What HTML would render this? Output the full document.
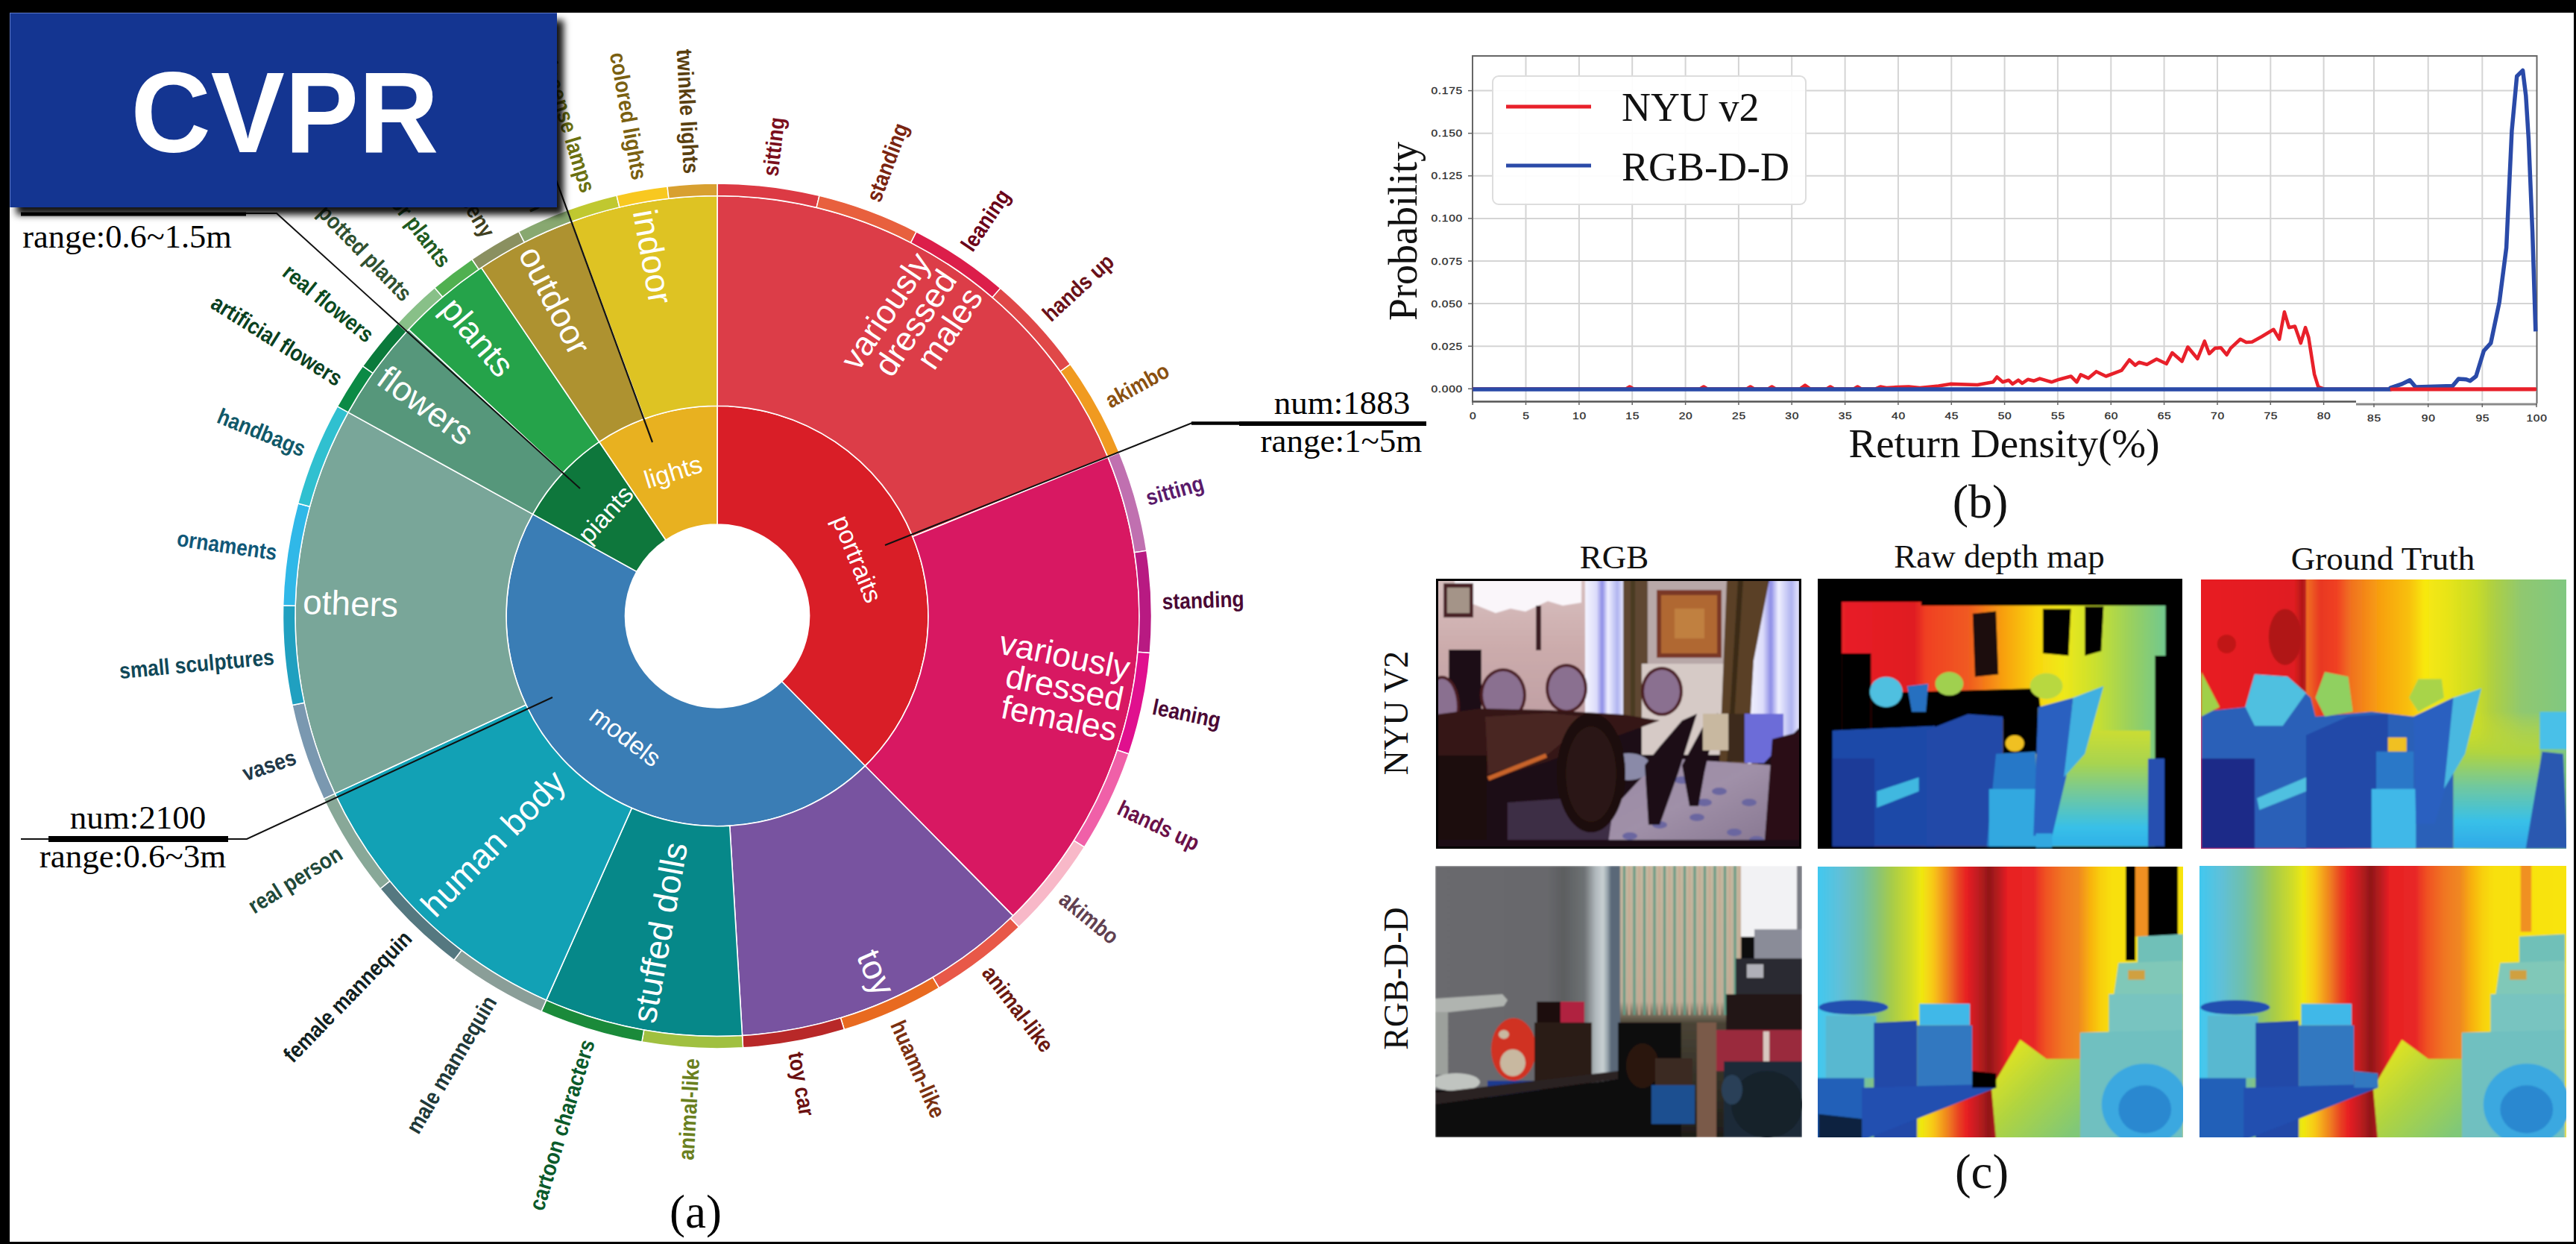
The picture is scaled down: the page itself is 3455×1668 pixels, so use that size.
<!DOCTYPE html>
<html><head><meta charset="utf-8"><style>
html,body{margin:0;padding:0;background:#000;}
#page{position:relative;width:3455px;height:1668px;background:#000;overflow:hidden;}
#white{position:absolute;left:13px;top:17px;width:3439px;height:1648px;background:#fff;}
svg{position:absolute;left:0;top:0;}
#cvpr{position:absolute;left:13px;top:17px;width:734px;height:261px;background:#143591;box-shadow:9px 10px 9px rgba(0,0,0,0.92);
border-top:1px solid #5c78c8;border-left:1px solid #5c78c8;box-sizing:border-box;
font-family:"Liberation Sans",sans-serif;font-weight:bold;color:#fff;font-size:154px;line-height:261px;text-align:center;}
#cvpr span{display:inline-block;transform:translate(1px,3px) scale(0.965,1);}
</style></head><body><div id="page"><div id="white"></div>
<svg width="3455" height="1668" viewBox="0 0 3455 1668">
<g font-family="Liberation Sans, sans-serif">
<path d="M962.00,544.27 A283,281.7265 0 0 1 1160.36,1026.94 L1048.56,913.69 A123.5,122.94425000000001 0 0 0 962.00,703.06 Z" fill="#d91e27" stroke="#fff" stroke-width="1.6" stroke-linejoin="round"/>
<path d="M1160.36,1026.94 A283,281.7265 0 0 1 714.48,689.42 L853.98,766.40 A123.5,122.94425000000001 0 0 0 1048.56,913.69 Z" fill="#3a7db5" stroke="#fff" stroke-width="1.6" stroke-linejoin="round"/>
<path d="M714.48,689.42 A283,281.7265 0 0 1 803.75,592.44 L892.94,724.07 A123.5,122.94425000000001 0 0 0 853.98,766.40 Z" fill="#0e773c" stroke="#fff" stroke-width="1.6" stroke-linejoin="round"/>
<path d="M803.75,592.44 A283,281.7265 0 0 1 962.00,544.27 L962.00,703.06 A123.5,122.94425000000001 0 0 0 892.94,724.07 Z" fill="#e8b120" stroke="#fff" stroke-width="1.6" stroke-linejoin="round"/>
<path d="M962.00,262.55 A566,563.453 0 0 1 1486.04,613.10 L1224.02,719.55 A283,281.7265 0 0 0 962.00,544.27 Z" fill="#dc3d48" stroke="#fff" stroke-width="1.6" stroke-linejoin="round"/>
<path d="M1486.04,613.10 A566,563.453 0 0 1 1358.71,1227.88 L1160.36,1026.94 A283,281.7265 0 0 0 1224.02,719.55 Z" fill="#d81862" stroke="#fff" stroke-width="1.6" stroke-linejoin="round"/>
<path d="M1358.71,1227.88 A566,563.453 0 0 1 995.57,1388.46 L978.78,1107.23 A283,281.7265 0 0 0 1160.36,1026.94 Z" fill="#7853a0" stroke="#fff" stroke-width="1.6" stroke-linejoin="round"/>
<path d="M995.57,1388.46 A566,563.453 0 0 1 732.69,1341.14 L847.34,1083.57 A283,281.7265 0 0 0 978.78,1107.23 Z" fill="#068889" stroke="#fff" stroke-width="1.6" stroke-linejoin="round"/>
<path d="M732.69,1341.14 A566,563.453 0 0 1 449.03,1064.13 L705.51,945.06 A283,281.7265 0 0 0 847.34,1083.57 Z" fill="#12a1b5" stroke="#fff" stroke-width="1.6" stroke-linejoin="round"/>
<path d="M449.03,1064.13 A566,563.453 0 0 1 466.97,552.83 L714.48,689.42 A283,281.7265 0 0 0 705.51,945.06 Z" fill="#79a699" stroke="#fff" stroke-width="1.6" stroke-linejoin="round"/>
<path d="M466.97,552.83 A566,563.453 0 0 1 548.05,441.73 L755.03,633.86 A283,281.7265 0 0 0 714.48,689.42 Z" fill="#56977b" stroke="#fff" stroke-width="1.6" stroke-linejoin="round"/>
<path d="M548.05,441.73 A566,563.453 0 0 1 645.50,358.88 L803.75,592.44 A283,281.7265 0 0 0 755.03,633.86 Z" fill="#25a34a" stroke="#fff" stroke-width="1.6" stroke-linejoin="round"/>
<path d="M645.50,358.88 A566,563.453 0 0 1 766.56,297.20 L864.28,561.60 A283,281.7265 0 0 0 803.75,592.44 Z" fill="#ae9230" stroke="#fff" stroke-width="1.6" stroke-linejoin="round"/>
<path d="M766.56,297.20 A566,563.453 0 0 1 962.00,262.55 L962.00,544.27 A283,281.7265 0 0 0 864.28,561.60 Z" fill="#dec323" stroke="#fff" stroke-width="1.6" stroke-linejoin="round"/>
<path d="M962.00,246.12 A582.5,579.8787500000001 0 0 1 1098.97,262.38 L1095.09,278.35 A566,563.453 0 0 0 962.00,262.55 Z" fill="#dc3a44" stroke="#fff" stroke-width="1.5" stroke-linejoin="round"/>
<path d="M1098.97,262.38 A582.5,579.8787500000001 0 0 1 1229.16,310.71 L1221.60,325.31 A566,563.453 0 0 0 1095.09,278.35 Z" fill="#e8603e" stroke="#fff" stroke-width="1.5" stroke-linejoin="round"/>
<path d="M1229.16,310.71 A582.5,579.8787500000001 0 0 1 1341.85,386.37 L1331.09,398.83 A566,563.453 0 0 0 1221.60,325.31 Z" fill="#dc1e4a" stroke="#fff" stroke-width="1.5" stroke-linejoin="round"/>
<path d="M1341.85,386.37 A582.5,579.8787500000001 0 0 1 1435.63,488.44 L1422.22,498.00 A566,563.453 0 0 0 1331.09,398.83 Z" fill="#e04848" stroke="#fff" stroke-width="1.5" stroke-linejoin="round"/>
<path d="M1435.63,488.44 A582.5,579.8787500000001 0 0 1 1501.32,606.90 L1486.04,613.10 A566,563.453 0 0 0 1422.22,498.00 Z" fill="#f09a20" stroke="#fff" stroke-width="1.5" stroke-linejoin="round"/>
<path d="M1501.32,606.90 A582.5,579.8787500000001 0 0 1 1537.80,738.29 L1521.49,740.77 A566,563.453 0 0 0 1486.04,613.10 Z" fill="#c070b0" stroke="#fff" stroke-width="1.5" stroke-linejoin="round"/>
<path d="M1537.80,738.29 A582.5,579.8787500000001 0 0 1 1542.37,875.53 L1525.93,874.13 A566,563.453 0 0 0 1521.49,740.77 Z" fill="#b81a82" stroke="#fff" stroke-width="1.5" stroke-linejoin="round"/>
<path d="M1542.37,875.53 A582.5,579.8787500000001 0 0 1 1514.08,1010.96 L1498.44,1005.72 A566,563.453 0 0 0 1525.93,874.13 Z" fill="#e0108e" stroke="#fff" stroke-width="1.5" stroke-linejoin="round"/>
<path d="M1514.08,1010.96 A582.5,579.8787500000001 0 0 1 1454.37,1135.86 L1440.42,1127.08 A566,563.453 0 0 0 1498.44,1005.72 Z" fill="#f060a8" stroke="#fff" stroke-width="1.5" stroke-linejoin="round"/>
<path d="M1454.37,1135.86 A582.5,579.8787500000001 0 0 1 1366.64,1243.13 L1355.18,1231.31 A566,563.453 0 0 0 1440.42,1127.08 Z" fill="#f8b8c8" stroke="#fff" stroke-width="1.5" stroke-linejoin="round"/>
<path d="M1366.64,1243.13 A582.5,579.8787500000001 0 0 1 1259.39,1324.61 L1250.97,1310.49 A566,563.453 0 0 0 1355.18,1231.31 Z" fill="#e85848" stroke="#fff" stroke-width="1.5" stroke-linejoin="round"/>
<path d="M1259.39,1324.61 A582.5,579.8787500000001 0 0 1 1132.31,1380.54 L1127.48,1364.83 A566,563.453 0 0 0 1250.97,1310.49 Z" fill="#e86a20" stroke="#fff" stroke-width="1.5" stroke-linejoin="round"/>
<path d="M1132.31,1380.54 A582.5,579.8787500000001 0 0 1 996.55,1404.86 L995.57,1388.46 A566,563.453 0 0 0 1127.48,1364.83 Z" fill="#b82828" stroke="#fff" stroke-width="1.5" stroke-linejoin="round"/>
<path d="M996.55,1404.86 A582.5,579.8787500000001 0 0 1 860.85,1397.07 L863.72,1380.89 A566,563.453 0 0 0 995.57,1388.46 Z" fill="#a0c040" stroke="#fff" stroke-width="1.5" stroke-linejoin="round"/>
<path d="M860.85,1397.07 A582.5,579.8787500000001 0 0 1 726.01,1356.16 L732.69,1341.14 A566,563.453 0 0 0 863.72,1380.89 Z" fill="#1a8a3a" stroke="#fff" stroke-width="1.5" stroke-linejoin="round"/>
<path d="M726.01,1356.16 A582.5,579.8787500000001 0 0 1 609.01,1287.28 L619.01,1274.21 A566,563.453 0 0 0 732.69,1341.14 Z" fill="#8a9e98" stroke="#fff" stroke-width="1.5" stroke-linejoin="round"/>
<path d="M609.01,1287.28 A582.5,579.8787500000001 0 0 1 509.95,1191.72 L522.76,1181.36 A566,563.453 0 0 0 619.01,1274.21 Z" fill="#557880" stroke="#fff" stroke-width="1.5" stroke-linejoin="round"/>
<path d="M509.95,1191.72 A582.5,579.8787500000001 0 0 1 434.08,1071.07 L449.03,1064.13 A566,563.453 0 0 0 522.76,1181.36 Z" fill="#88a898" stroke="#fff" stroke-width="1.5" stroke-linejoin="round"/>
<path d="M434.08,1071.07 A582.5,579.8787500000001 0 0 1 392.02,945.57 L408.16,942.19 A566,563.453 0 0 0 449.03,1064.13 Z" fill="#7a98b0" stroke="#fff" stroke-width="1.5" stroke-linejoin="round"/>
<path d="M392.02,945.57 A582.5,579.8787500000001 0 0 1 379.67,811.83 L396.17,812.23 A566,563.453 0 0 0 408.16,942.19 Z" fill="#20a0c0" stroke="#fff" stroke-width="1.5" stroke-linejoin="round"/>
<path d="M379.67,811.83 A582.5,579.8787500000001 0 0 1 399.61,674.94 L415.54,679.22 A566,563.453 0 0 0 396.17,812.23 Z" fill="#30b8e8" stroke="#fff" stroke-width="1.5" stroke-linejoin="round"/>
<path d="M399.61,674.94 A582.5,579.8787500000001 0 0 1 452.53,544.87 L466.97,552.83 A566,563.453 0 0 0 415.54,679.22 Z" fill="#30c0d0" stroke="#fff" stroke-width="1.5" stroke-linejoin="round"/>
<path d="M452.53,544.87 A582.5,579.8787500000001 0 0 1 486.60,490.91 L500.07,500.40 A566,563.453 0 0 0 466.97,552.83 Z" fill="#0b8a45" stroke="#fff" stroke-width="1.5" stroke-linejoin="round"/>
<path d="M486.60,490.91 A582.5,579.8787500000001 0 0 1 533.22,433.49 L545.37,444.61 A566,563.453 0 0 0 500.07,500.40 Z" fill="#0b7a3b" stroke="#fff" stroke-width="1.5" stroke-linejoin="round"/>
<path d="M533.22,433.49 A582.5,579.8787500000001 0 0 1 582.92,385.71 L593.66,398.19 A566,563.453 0 0 0 545.37,444.61 Z" fill="#88c088" stroke="#fff" stroke-width="1.5" stroke-linejoin="round"/>
<path d="M582.92,385.71 A582.5,579.8787500000001 0 0 1 632.91,347.53 L642.23,361.09 A566,563.453 0 0 0 593.66,398.19 Z" fill="#50b050" stroke="#fff" stroke-width="1.5" stroke-linejoin="round"/>
<path d="M632.91,347.53 A582.5,579.8787500000001 0 0 1 695.74,310.25 L703.28,324.86 A566,563.453 0 0 0 642.23,361.09 Z" fill="#8a9060" stroke="#fff" stroke-width="1.5" stroke-linejoin="round"/>
<path d="M695.74,310.25 A582.5,579.8787500000001 0 0 1 760.86,281.79 L766.56,297.20 A566,563.453 0 0 0 703.28,324.86 Z" fill="#88a870" stroke="#fff" stroke-width="1.5" stroke-linejoin="round"/>
<path d="M760.86,281.79 A582.5,579.8787500000001 0 0 1 827.01,261.91 L830.83,277.89 A566,563.453 0 0 0 766.56,297.20 Z" fill="#c0c830" stroke="#fff" stroke-width="1.5" stroke-linejoin="round"/>
<path d="M827.01,261.91 A582.5,579.8787500000001 0 0 1 895.05,249.96 L896.95,266.28 A566,563.453 0 0 0 830.83,277.89 Z" fill="#f8c820" stroke="#fff" stroke-width="1.5" stroke-linejoin="round"/>
<path d="M895.05,249.96 A582.5,579.8787500000001 0 0 1 962.00,246.12 L962.00,262.55 A566,563.453 0 0 0 896.95,266.28 Z" fill="#d8a030" stroke="#fff" stroke-width="1.5" stroke-linejoin="round"/>
<text transform="translate(1032.7 235.9) rotate(-83.20) scale(0.88 1)" text-anchor="start" dominant-baseline="central" fill="#7a0e1c" font-size="30" font-weight="bold">sitting</text>
<text transform="translate(1170.6 269.1) rotate(-69.55) scale(0.88 1)" text-anchor="start" dominant-baseline="central" fill="#7a2410" font-size="30" font-weight="bold">standing</text>
<text transform="translate(1295.8 333.3) rotate(-56.00) scale(0.88 1)" text-anchor="start" dominant-baseline="central" fill="#6a0018" font-size="30" font-weight="bold">leaning</text>
<text transform="translate(1402.5 424.9) rotate(-42.45) scale(0.88 1)" text-anchor="start" dominant-baseline="central" fill="#6a1018" font-size="30" font-weight="bold">hands up</text>
<text transform="translate(1484.7 538.8) rotate(-28.90) scale(0.88 1)" text-anchor="start" dominant-baseline="central" fill="#8a5010" font-size="30" font-weight="bold">akimbo</text>
<text transform="translate(1537.4 667.7) rotate(-15.45) scale(0.88 1)" text-anchor="start" dominant-baseline="central" fill="#5a1a6a" font-size="30" font-weight="bold">sitting</text>
<text transform="translate(1558.7 806.3) rotate(-1.90) scale(0.88 1)" text-anchor="start" dominant-baseline="central" fill="#4a0834" font-size="30" font-weight="bold">standing</text>
<text transform="translate(1546.5 947.0) rotate(11.75) scale(0.88 1)" text-anchor="start" dominant-baseline="central" fill="#4a0834" font-size="30" font-weight="bold">leaning</text>
<text transform="translate(1501.1 1081.4) rotate(25.45) scale(0.88 1)" text-anchor="start" dominant-baseline="central" fill="#6a1048" font-size="30" font-weight="bold">hands up</text>
<text transform="translate(1425.0 1201.2) rotate(39.15) scale(0.88 1)" text-anchor="start" dominant-baseline="central" fill="#604050" font-size="30" font-weight="bold">akimbo</text>
<text transform="translate(1324.2 1298.4) rotate(52.65) scale(0.88 1)" text-anchor="start" dominant-baseline="central" fill="#6a1810" font-size="30" font-weight="bold">animal-like</text>
<text transform="translate(1203.4 1369.6) rotate(66.15) scale(0.88 1)" text-anchor="start" dominant-baseline="central" fill="#7a3010" font-size="30" font-weight="bold">huamn-like</text>
<text transform="translate(1067.7 1410.9) rotate(79.80) scale(0.88 1)" text-anchor="start" dominant-baseline="central" fill="#6a1010" font-size="30" font-weight="bold">toy car</text>
<text transform="translate(927.6 1419.3) rotate(-86.70) scale(0.88 1)" text-anchor="end" dominant-baseline="central" fill="#6a8020" font-size="30" font-weight="bold">animal-like</text>
<text transform="translate(788.0 1394.5) rotate(-73.05) scale(0.88 1)" text-anchor="end" dominant-baseline="central" fill="#0a5a2a" font-size="30" font-weight="bold">cartoon characters</text>
<text transform="translate(658.1 1337.6) rotate(-59.40) scale(0.88 1)" text-anchor="end" dominant-baseline="central" fill="#203838" font-size="30" font-weight="bold">male mannequin</text>
<text transform="translate(546.5 1252.8) rotate(-45.90) scale(0.88 1)" text-anchor="end" dominant-baseline="central" fill="#102020" font-size="30" font-weight="bold">female mannequin</text>
<text transform="translate(456.0 1141.4) rotate(-32.05) scale(0.88 1)" text-anchor="end" dominant-baseline="central" fill="#204838" font-size="30" font-weight="bold">real person</text>
<text transform="translate(395.7 1014.1) rotate(-18.45) scale(0.88 1)" text-anchor="end" dominant-baseline="central" fill="#203848" font-size="30" font-weight="bold">vases</text>
<text transform="translate(367.5 880.4) rotate(-5.25) scale(0.88 1)" text-anchor="end" dominant-baseline="central" fill="#104858" font-size="30" font-weight="bold">small sculptures</text>
<text transform="translate(371.2 740.7) rotate(8.25) scale(0.88 1)" text-anchor="end" dominant-baseline="central" fill="#105878" font-size="30" font-weight="bold">ornaments</text>
<text transform="translate(408.7 602.9) rotate(22.05) scale(0.88 1)" text-anchor="end" dominant-baseline="central" fill="#105868" font-size="30" font-weight="bold">handbags</text>
<text transform="translate(456.5 509.7) rotate(32.15) scale(0.88 1)" text-anchor="end" dominant-baseline="central" fill="#0a4020" font-size="30" font-weight="bold">artificial flowers</text>
<text transform="translate(497.7 452.4) rotate(38.95) scale(0.88 1)" text-anchor="end" dominant-baseline="central" fill="#0a4a20" font-size="30" font-weight="bold">real flowers</text>
<text transform="translate(547.3 398.5) rotate(46.00) scale(0.88 1)" text-anchor="end" dominant-baseline="central" fill="#305030" font-size="30" font-weight="bold">potted plants</text>
<text transform="translate(598.6 354.5) rotate(52.50) scale(0.88 1)" text-anchor="end" dominant-baseline="central" fill="#205a20" font-size="30" font-weight="bold">indoor plants</text>
<text transform="translate(656.3 315.5) rotate(59.20) scale(0.88 1)" text-anchor="end" dominant-baseline="central" fill="#404020" font-size="30" font-weight="bold">greeny</text>
<text transform="translate(722.0 281.8) rotate(66.30) scale(0.88 1)" text-anchor="end" dominant-baseline="central" fill="#405030" font-size="30" font-weight="bold">lawn</text>
<text transform="translate(789.4 257.1) rotate(73.20) scale(0.88 1)" text-anchor="end" dominant-baseline="central" fill="#6a7010" font-size="30" font-weight="bold">incense lamps</text>
<text transform="translate(858.3 240.7) rotate(80.00) scale(0.88 1)" text-anchor="end" dominant-baseline="central" fill="#7a6010" font-size="30" font-weight="bold">colored lights</text>
<text transform="translate(927.6 232.7) rotate(86.70) scale(0.88 1)" text-anchor="end" dominant-baseline="central" fill="#5a4010" font-size="30" font-weight="bold">twinkle lights</text>
<g transform="translate(1272.1 366.6) rotate(-56.10)"><text x="0" y="-42.0" text-anchor="end" dominant-baseline="central" fill="#fff" font-size="45">variously</text><text x="0" y="0.0" text-anchor="end" dominant-baseline="central" fill="#fff" font-size="45">dressed</text><text x="0" y="42.0" text-anchor="end" dominant-baseline="central" fill="#fff" font-size="45">males</text></g>
<g transform="translate(1506.5 937.8) rotate(11.65)"><text x="0" y="-42.0" text-anchor="end" dominant-baseline="central" fill="#fff" font-size="45">variously</text><text x="0" y="0.0" text-anchor="end" dominant-baseline="central" fill="#fff" font-size="45">dressed</text><text x="0" y="42.0" text-anchor="end" dominant-baseline="central" fill="#fff" font-size="45">females</text></g>
<g transform="translate(1187.7 1331.8) rotate(66.05)"><text x="0" y="0.0" text-anchor="end" dominant-baseline="central" fill="#fff" font-size="46">toy</text></g>
<g transform="translate(863.1 1370.7) rotate(-79.75)"><text x="0" y="0.0" text-anchor="start" dominant-baseline="central" fill="#fff" font-size="46">stuffed dolls</text></g>
<g transform="translate(572.6 1221.1) rotate(-45.55)"><text x="0" y="0.0" text-anchor="start" dominant-baseline="central" fill="#fff" font-size="46">human body</text></g>
<g transform="translate(406.3 806.7) rotate(2.00)"><text x="0" y="0.0" text-anchor="start" dominant-baseline="central" fill="#fff" font-size="46">others</text></g>
<g transform="translate(512.2 500.7) rotate(36.00)"><text x="0" y="0.0" text-anchor="start" dominant-baseline="central" fill="#fff" font-size="46">flowers</text></g>
<g transform="translate(600.9 405.1) rotate(49.50)"><text x="0" y="0.0" text-anchor="start" dominant-baseline="central" fill="#fff" font-size="46">plants</text></g>
<g transform="translate(708.7 333.3) rotate(62.90)"><text x="0" y="0.0" text-anchor="start" dominant-baseline="central" fill="#fff" font-size="46">outdoor</text></g>
<g transform="translate(864.5 281.1) rotate(79.90)"><text x="0" y="0.0" text-anchor="start" dominant-baseline="central" fill="#fff" font-size="46">indoor</text></g>
<text x="1150.1" y="749.4" transform="rotate(67.75 1150.1 749.4)" text-anchor="middle" dominant-baseline="central" fill="#fff" font-size="34">portraits</text>
<text x="839.0" y="987.1" transform="rotate(37.25 839.0 987.1)" text-anchor="middle" dominant-baseline="central" fill="#fff" font-size="34">models</text>
<text x="812.1" y="689.3" transform="rotate(-47.50 812.1 689.3)" text-anchor="middle" dominant-baseline="central" fill="#fff" font-size="34">piants</text>
<text x="902.6" y="632.5" transform="rotate(-17.00 902.6 632.5)" text-anchor="middle" dominant-baseline="central" fill="#fff" font-size="34">lights</text>
</g>
<g font-family="Liberation Serif, serif" fill="#000">
<polyline points="1187,731 1599,567" fill="none" stroke="#111" stroke-width="2"/>
<line x1="1598" y1="567.5" x2="1664" y2="567.5" stroke="#000" stroke-width="4.5"/>
<line x1="1662" y1="568" x2="1913" y2="568" stroke="#000" stroke-width="6"/>
<text x="1800" y="555" text-anchor="middle" font-size="45">num:1883</text>
<text x="1799" y="606" text-anchor="middle" font-size="45">range:1~5m</text>
<polyline points="741,935 331,1125 28,1125" fill="none" stroke="#111" stroke-width="2"/>
<line x1="65" y1="1125" x2="306" y2="1125" stroke="#000" stroke-width="8"/>
<text x="185" y="1111" text-anchor="middle" font-size="45">num:2100</text>
<text x="178" y="1163" text-anchor="middle" font-size="45">range:0.6~3m</text>
<polyline points="778,655 371,286 28,286" fill="none" stroke="#111" stroke-width="2"/>
<line x1="28" y1="287" x2="330" y2="287" stroke="#000" stroke-width="5"/>
<text x="170.5" y="332" text-anchor="middle" font-size="44.4">range:0.6~1.5m</text>
<line x1="875" y1="593" x2="741" y2="228" stroke="#111" stroke-width="2.2"/>
<text x="933" y="1646" text-anchor="middle" font-size="63">(a)</text>
</g>
<g>
<line x1="2046.5" y1="75" x2="2046.5" y2="538" stroke="#d4d4d4" stroke-width="2"/>
<line x1="2117.9" y1="75" x2="2117.9" y2="538" stroke="#d4d4d4" stroke-width="2"/>
<line x1="2189.2" y1="75" x2="2189.2" y2="538" stroke="#d4d4d4" stroke-width="2"/>
<line x1="2260.6" y1="75" x2="2260.6" y2="538" stroke="#d4d4d4" stroke-width="2"/>
<line x1="2331.9" y1="75" x2="2331.9" y2="538" stroke="#d4d4d4" stroke-width="2"/>
<line x1="2403.2" y1="75" x2="2403.2" y2="538" stroke="#d4d4d4" stroke-width="2"/>
<line x1="2474.6" y1="75" x2="2474.6" y2="538" stroke="#d4d4d4" stroke-width="2"/>
<line x1="2545.9" y1="75" x2="2545.9" y2="538" stroke="#d4d4d4" stroke-width="2"/>
<line x1="2617.3" y1="75" x2="2617.3" y2="538" stroke="#d4d4d4" stroke-width="2"/>
<line x1="2688.6" y1="75" x2="2688.6" y2="538" stroke="#d4d4d4" stroke-width="2"/>
<line x1="2759.9" y1="75" x2="2759.9" y2="538" stroke="#d4d4d4" stroke-width="2"/>
<line x1="2831.3" y1="75" x2="2831.3" y2="538" stroke="#d4d4d4" stroke-width="2"/>
<line x1="2902.6" y1="75" x2="2902.6" y2="538" stroke="#d4d4d4" stroke-width="2"/>
<line x1="2974.0" y1="75" x2="2974.0" y2="538" stroke="#d4d4d4" stroke-width="2"/>
<line x1="3045.3" y1="75" x2="3045.3" y2="538" stroke="#d4d4d4" stroke-width="2"/>
<line x1="3116.6" y1="75" x2="3116.6" y2="538" stroke="#d4d4d4" stroke-width="2"/>
<line x1="3184.0" y1="75" x2="3184.0" y2="538" stroke="#d4d4d4" stroke-width="2"/>
<line x1="3256.7" y1="75" x2="3256.7" y2="538" stroke="#d4d4d4" stroke-width="2"/>
<line x1="3329.3" y1="75" x2="3329.3" y2="538" stroke="#d4d4d4" stroke-width="2"/>
<line x1="1974" y1="521.3" x2="3403" y2="521.3" stroke="#d4d4d4" stroke-width="2"/>
<line x1="1974" y1="464.2" x2="3403" y2="464.2" stroke="#d4d4d4" stroke-width="2"/>
<line x1="1974" y1="407.1" x2="3403" y2="407.1" stroke="#d4d4d4" stroke-width="2"/>
<line x1="1974" y1="350.0" x2="3403" y2="350.0" stroke="#d4d4d4" stroke-width="2"/>
<line x1="1974" y1="292.9" x2="3403" y2="292.9" stroke="#d4d4d4" stroke-width="2"/>
<line x1="1974" y1="235.8" x2="3403" y2="235.8" stroke="#d4d4d4" stroke-width="2"/>
<line x1="1974" y1="178.7" x2="3403" y2="178.7" stroke="#d4d4d4" stroke-width="2"/>
<line x1="1974" y1="121.6" x2="3403" y2="121.6" stroke="#d4d4d4" stroke-width="2"/>
<polyline points="1975,538 1975,75 3402.5,75 3402.5,541" fill="none" stroke="#666" stroke-width="2"/>
<line x1="1974" y1="538.5" x2="3160" y2="538.5" stroke="#555" stroke-width="2.5"/>
<line x1="3160" y1="542" x2="3403" y2="542" stroke="#8a8a8a" stroke-width="3"/>
<g font-family="Liberation Sans, sans-serif" font-size="13" fill="#2a2a2a" stroke="#2a2a2a" stroke-width="0.3" letter-spacing="0.6">
<line x1="1975.2" y1="538" x2="1975.2" y2="543" stroke="#666" stroke-width="1.5"/>
<text transform="translate(1975.7 562) scale(1.2 1)" text-anchor="middle">0</text>
<line x1="2046.5" y1="538" x2="2046.5" y2="543" stroke="#666" stroke-width="1.5"/>
<text transform="translate(2047.0 562) scale(1.2 1)" text-anchor="middle">5</text>
<line x1="2117.9" y1="538" x2="2117.9" y2="543" stroke="#666" stroke-width="1.5"/>
<text transform="translate(2118.4 562) scale(1.2 1)" text-anchor="middle">10</text>
<line x1="2189.2" y1="538" x2="2189.2" y2="543" stroke="#666" stroke-width="1.5"/>
<text transform="translate(2189.7 562) scale(1.2 1)" text-anchor="middle">15</text>
<line x1="2260.6" y1="538" x2="2260.6" y2="543" stroke="#666" stroke-width="1.5"/>
<text transform="translate(2261.1 562) scale(1.2 1)" text-anchor="middle">20</text>
<line x1="2331.9" y1="538" x2="2331.9" y2="543" stroke="#666" stroke-width="1.5"/>
<text transform="translate(2332.4 562) scale(1.2 1)" text-anchor="middle">25</text>
<line x1="2403.2" y1="538" x2="2403.2" y2="543" stroke="#666" stroke-width="1.5"/>
<text transform="translate(2403.7 562) scale(1.2 1)" text-anchor="middle">30</text>
<line x1="2474.6" y1="538" x2="2474.6" y2="543" stroke="#666" stroke-width="1.5"/>
<text transform="translate(2475.1 562) scale(1.2 1)" text-anchor="middle">35</text>
<line x1="2545.9" y1="538" x2="2545.9" y2="543" stroke="#666" stroke-width="1.5"/>
<text transform="translate(2546.4 562) scale(1.2 1)" text-anchor="middle">40</text>
<line x1="2617.3" y1="538" x2="2617.3" y2="543" stroke="#666" stroke-width="1.5"/>
<text transform="translate(2617.8 562) scale(1.2 1)" text-anchor="middle">45</text>
<line x1="2688.6" y1="538" x2="2688.6" y2="543" stroke="#666" stroke-width="1.5"/>
<text transform="translate(2689.1 562) scale(1.2 1)" text-anchor="middle">50</text>
<line x1="2759.9" y1="538" x2="2759.9" y2="543" stroke="#666" stroke-width="1.5"/>
<text transform="translate(2760.4 562) scale(1.2 1)" text-anchor="middle">55</text>
<line x1="2831.3" y1="538" x2="2831.3" y2="543" stroke="#666" stroke-width="1.5"/>
<text transform="translate(2831.8 562) scale(1.2 1)" text-anchor="middle">60</text>
<line x1="2902.6" y1="538" x2="2902.6" y2="543" stroke="#666" stroke-width="1.5"/>
<text transform="translate(2903.1 562) scale(1.2 1)" text-anchor="middle">65</text>
<line x1="2974.0" y1="538" x2="2974.0" y2="543" stroke="#666" stroke-width="1.5"/>
<text transform="translate(2974.5 562) scale(1.2 1)" text-anchor="middle">70</text>
<line x1="3045.3" y1="538" x2="3045.3" y2="543" stroke="#666" stroke-width="1.5"/>
<text transform="translate(3045.8 562) scale(1.2 1)" text-anchor="middle">75</text>
<line x1="3116.6" y1="538" x2="3116.6" y2="543" stroke="#666" stroke-width="1.5"/>
<text transform="translate(3117.1 562) scale(1.2 1)" text-anchor="middle">80</text>
<line x1="3184.0" y1="541" x2="3184.0" y2="546" stroke="#666" stroke-width="1.5"/>
<text transform="translate(3184.5 565) scale(1.2 1)" text-anchor="middle">85</text>
<line x1="3256.7" y1="541" x2="3256.7" y2="546" stroke="#666" stroke-width="1.5"/>
<text transform="translate(3257.2 565) scale(1.2 1)" text-anchor="middle">90</text>
<line x1="3329.3" y1="541" x2="3329.3" y2="546" stroke="#666" stroke-width="1.5"/>
<text transform="translate(3329.8 565) scale(1.2 1)" text-anchor="middle">95</text>
<line x1="3402.0" y1="541" x2="3402.0" y2="546" stroke="#666" stroke-width="1.5"/>
<text transform="translate(3402.5 565) scale(1.2 1)" text-anchor="middle">100</text>
<line x1="1969" y1="521.3" x2="1974" y2="521.3" stroke="#666" stroke-width="1.5"/>
<text transform="translate(1962 525.8) scale(1.2 1)" text-anchor="end">0.000</text>
<line x1="1969" y1="464.2" x2="1974" y2="464.2" stroke="#666" stroke-width="1.5"/>
<text transform="translate(1962 468.7) scale(1.2 1)" text-anchor="end">0.025</text>
<line x1="1969" y1="407.1" x2="1974" y2="407.1" stroke="#666" stroke-width="1.5"/>
<text transform="translate(1962 411.6) scale(1.2 1)" text-anchor="end">0.050</text>
<line x1="1969" y1="350.0" x2="1974" y2="350.0" stroke="#666" stroke-width="1.5"/>
<text transform="translate(1962 354.5) scale(1.2 1)" text-anchor="end">0.075</text>
<line x1="1969" y1="292.9" x2="1974" y2="292.9" stroke="#666" stroke-width="1.5"/>
<text transform="translate(1962 297.4) scale(1.2 1)" text-anchor="end">0.100</text>
<line x1="1969" y1="235.8" x2="1974" y2="235.8" stroke="#666" stroke-width="1.5"/>
<text transform="translate(1962 240.3) scale(1.2 1)" text-anchor="end">0.125</text>
<line x1="1969" y1="178.7" x2="1974" y2="178.7" stroke="#666" stroke-width="1.5"/>
<text transform="translate(1962 183.2) scale(1.2 1)" text-anchor="end">0.150</text>
<line x1="1969" y1="121.6" x2="1974" y2="121.6" stroke="#666" stroke-width="1.5"/>
<text transform="translate(1962 126.1) scale(1.2 1)" text-anchor="end">0.175</text>
</g>
<polyline points="1975.0,521.5 2180.8,521.5 2185.8,518.5 2190.8,521.5 2280.0,521.5 2285.0,518.5 2290.0,521.5 2342.7,521.5 2347.7,518.5 2352.7,521.5 2371.5,521.5 2376.5,518.5 2381.5,521.5 2449.9,521.5 2454.9,518.5 2459.9,521.5 2486.4,521.5 2491.4,518.5 2496.4,521.5 2414.0,521.5 2421.0,516.5 2428.0,521.5 2515.0,521.5 2522.0,518.5 2530.0,520.0 2545.0,519.0 2560.0,518.5 2575.0,520.0 2590.0,518.5 2600.0,517.5 2615.7,514.9 2652.2,516.0 2673.1,512.3 2678.4,505.5 2686.2,512.3 2694.0,509.7 2699.3,514.9 2707.1,509.7 2712.3,513.9 2720.1,508.7 2728.0,510.7 2735.8,507.6 2751.5,512.3 2761.9,508.7 2777.6,504.5 2785.4,512.3 2790.7,502.4 2801.1,507.1 2811.6,498.2 2824.6,504.5 2845.5,496.6 2856.0,482.5 2863.8,489.8 2869.0,485.7 2879.5,488.8 2892.5,481.5 2905.6,487.8 2913.4,473.1 2926.5,484.6 2934.3,465.3 2947.4,481.0 2956.8,457.5 2963.1,474.2 2970.9,466.9 2978.7,466.3 2986.6,475.7 2991.8,466.9 3004.8,454.8 3012.7,459.0 3020.5,458.5 3033.6,451.2 3049.3,441.8 3057.1,454.8 3063.9,418.3 3070.1,439.2 3078.0,437.6 3083.2,452.2 3085.8,460.1 3092.1,439.2 3096.3,452.2 3104.1,501.9 3109.3,518.6 3117.2,521.7 3401.9,521.7" fill="none" stroke="#e8202a" stroke-width="4.6" stroke-linejoin="round"/>
<polyline points="1975.2,522.0 3206.0,522.0 3206.0,520.1 3221.6,514.9 3232.1,509.7 3239.9,519.1 3289.5,517.5 3297.4,508.1 3307.8,508.7 3313.1,510.7 3320.9,504.5 3331.3,470.5 3340.7,460.1 3352.2,405.2 3361.6,332.1 3368.9,175.4 3375.7,102.2 3383.6,94.4 3387.8,128.4 3391.4,185.8 3396.6,311.2 3400.8,444.4" fill="none" stroke="#2a4aa8" stroke-width="5.5" stroke-linejoin="round"/>
<line x1="3205.8" y1="522" x2="3401" y2="522" stroke="#e8202a" stroke-width="5"/>
<rect x="2002" y="102" width="420" height="172" rx="8" fill="#fff" fill-opacity="0.92" stroke="#ddd" stroke-width="2"/>
<line x1="2020" y1="143" x2="2134" y2="143" stroke="#e8202a" stroke-width="5"/>
<line x1="2020" y1="222" x2="2134" y2="222" stroke="#2a4aa8" stroke-width="5"/>
<g font-family="Liberation Serif, serif" fill="#111">
<text x="2175" y="162" font-size="54">NYU v2</text>
<text x="2175" y="242" font-size="54">RGB-D-D</text>
<text transform="translate(1900 310) rotate(-90)" text-anchor="middle" font-size="54">Probability</text>
<text x="2688" y="613" text-anchor="middle" font-size="55">Return Density(%)</text>
<text x="2656" y="694" text-anchor="middle" font-size="64">(b)</text>
</g>
</g>
<g font-family="Liberation Serif, serif" fill="#111">
<text x="2165" y="762" text-anchor="middle" font-size="45">RGB</text>
<text x="2681.5" y="761" text-anchor="middle" font-size="45">Raw depth map</text>
<text x="3196" y="764" text-anchor="middle" font-size="45">Ground Truth</text>
<text transform="translate(1888 956) rotate(-90)" text-anchor="middle" font-size="46">NYU V2</text>
<text transform="translate(1888 1312) rotate(-90)" text-anchor="middle" font-size="46">RGB-D-D</text>
<text x="2658" y="1593" text-anchor="middle" font-size="65">(c)</text>
</g>
<defs><filter id="soft" x="-5%" y="-5%" width="110%" height="110%"><feGaussianBlur stdDeviation="3"/></filter><filter id="soft1" x="-5%" y="-5%" width="110%" height="110%"><feGaussianBlur stdDeviation="1.2"/></filter><linearGradient id="g1wall" x1="0" y1="0" x2="0" y2="1"><stop offset="0" stop-color="#d8c0c0"/><stop offset="0.5" stop-color="#ccacac"/><stop offset="1" stop-color="#c0a0a4"/></linearGradient><linearGradient id="g1win" x1="0" y1="0" x2="1" y2="0"><stop offset="0" stop-color="#f4f4ff"/><stop offset="0.3" stop-color="#dcdcfa"/><stop offset="0.45" stop-color="#8c8ce6"/><stop offset="0.6" stop-color="#f0f0ff"/><stop offset="0.85" stop-color="#b0b4f0"/><stop offset="1" stop-color="#e8e8ff"/></linearGradient><linearGradient id="g1rug" x1="0" y1="0" x2="1" y2="1"><stop offset="0" stop-color="#9a8aa4"/><stop offset="0.5" stop-color="#a090a8"/><stop offset="1" stop-color="#867690"/></linearGradient><clipPath id="cp1"><rect x="1926" y="776" width="490" height="362"/></clipPath><linearGradient id="g2top" x1="0" y1="0" x2="1" y2="0"><stop offset="0.0000" stop-color="#e82028"/><stop offset="0.2230" stop-color="#e01c20"/><stop offset="0.2590" stop-color="#f04020"/><stop offset="0.3885" stop-color="#f05a20"/><stop offset="0.4964" stop-color="#f8a010"/><stop offset="0.6043" stop-color="#f8d810"/><stop offset="0.6763" stop-color="#f0e818"/><stop offset="0.7842" stop-color="#c8e030"/><stop offset="0.8921" stop-color="#98d060"/><stop offset="1.0000" stop-color="#70c890"/></linearGradient><linearGradient id="g2top_u" gradientUnits="userSpaceOnUse" x1="160" y1="0" x2="1550" y2="0"><stop offset="0.0000" stop-color="#e82028"/><stop offset="0.2230" stop-color="#e01c20"/><stop offset="0.2590" stop-color="#f04020"/><stop offset="0.3885" stop-color="#f05a20"/><stop offset="0.4964" stop-color="#f8a010"/><stop offset="0.6043" stop-color="#f8d810"/><stop offset="0.6763" stop-color="#f0e818"/><stop offset="0.7842" stop-color="#c8e030"/><stop offset="0.8921" stop-color="#98d060"/><stop offset="1.0000" stop-color="#70c890"/></linearGradient><linearGradient id="g2r" gradientUnits="userSpaceOnUse" x1="0" y1="650" x2="0" y2="1195"><stop offset="0" stop-color="#d8e028"/><stop offset="0.35" stop-color="#a8d450"/><stop offset="0.6" stop-color="#70c8a0"/><stop offset="0.85" stop-color="#38c0e8"/><stop offset="1" stop-color="#30b0e8"/></linearGradient><clipPath id="cp2"><rect x="2438" y="776" width="489" height="362"/></clipPath><linearGradient id="g3top" gradientUnits="userSpaceOnUse" x1="72" y1="0" x2="1632" y2="0"><stop offset="0.0000" stop-color="#e81c20"/><stop offset="0.2551" stop-color="#e01c20"/><stop offset="0.2776" stop-color="#b01818"/><stop offset="0.2859" stop-color="#c02020"/><stop offset="0.2885" stop-color="#f07020"/><stop offset="0.3256" stop-color="#e83820"/><stop offset="0.3705" stop-color="#f04020"/><stop offset="0.4077" stop-color="#f07020"/><stop offset="0.4897" stop-color="#f8a010"/><stop offset="0.5692" stop-color="#f8c010"/><stop offset="0.6122" stop-color="#f8e810"/><stop offset="0.6737" stop-color="#e8e418"/><stop offset="0.7551" stop-color="#c8dc28"/><stop offset="0.7962" stop-color="#b0d040"/><stop offset="0.8782" stop-color="#90c870"/><stop offset="1.0000" stop-color="#80c880"/></linearGradient><linearGradient id="g3r" gradientUnits="userSpaceOnUse" x1="0" y1="620" x2="0" y2="1205"><stop offset="0" stop-color="#d8e020" stop-opacity="0"/><stop offset="0.3" stop-color="#b0d440"/><stop offset="0.55" stop-color="#70c8a0"/><stop offset="0.8" stop-color="#38c0e8"/><stop offset="1" stop-color="#30a8e8"/></linearGradient><clipPath id="cp3"><rect x="2952" y="777" width="490" height="361"/></clipPath><linearGradient id="g4wall" gradientUnits="userSpaceOnUse" x1="0" y1="0" x2="248" y2="0"><stop offset="0.0000" stop-color="#6a6a6e"/><stop offset="0.6048" stop-color="#68686c"/><stop offset="0.6935" stop-color="#5c5e60"/><stop offset="0.8065" stop-color="#6e7274"/><stop offset="0.8669" stop-color="#b0b8bc"/><stop offset="0.9073" stop-color="#c8d0d2"/><stop offset="0.9315" stop-color="#98a4ac"/><stop offset="0.9516" stop-color="#5a6878"/><stop offset="1.0000" stop-color="#5a6878"/></linearGradient><linearGradient id="g4cur" gradientUnits="userSpaceOnUse" x1="0" y1="0" x2="0" y2="364"><stop offset="0" stop-color="#c4b8a0"/><stop offset="0.5" stop-color="#bcae98"/><stop offset="0.58" stop-color="#4a4436"/><stop offset="1" stop-color="#1e1c18"/></linearGradient><clipPath id="cp4"><rect x="1925" y="1161" width="492" height="364"/></clipPath><linearGradient id="g5" gradientUnits="userSpaceOnUse" x1="55" y1="0" x2="1578" y2="0"><stop offset="0.0000" stop-color="#40c8f0"/><stop offset="0.0611" stop-color="#60c0d8"/><stop offset="0.1228" stop-color="#70c0a8"/><stop offset="0.1635" stop-color="#88c478"/><stop offset="0.2042" stop-color="#a8cc48"/><stop offset="0.2554" stop-color="#d0dc28"/><stop offset="0.2856" stop-color="#f0e810"/><stop offset="0.3165" stop-color="#f8c818"/><stop offset="0.3572" stop-color="#f08020"/><stop offset="0.3880" stop-color="#e84020"/><stop offset="0.4084" stop-color="#e82020"/><stop offset="0.4393" stop-color="#c01c20"/><stop offset="0.4695" stop-color="#901818"/><stop offset="0.5003" stop-color="#c01c20"/><stop offset="0.5207" stop-color="#e82020"/><stop offset="0.5923" stop-color="#e82828"/><stop offset="0.6225" stop-color="#f05020"/><stop offset="0.6737" stop-color="#f07820"/><stop offset="0.7144" stop-color="#f08820"/><stop offset="0.7452" stop-color="#f8b010"/><stop offset="0.7754" stop-color="#f8d010"/><stop offset="0.8063" stop-color="#f8e010"/><stop offset="1.0000" stop-color="#f8e410"/></linearGradient><linearGradient id="gwedge" gradientUnits="userSpaceOnUse" x1="800" y1="800" x2="1150" y2="1150"><stop offset="0" stop-color="#f0e818"/><stop offset="0.5" stop-color="#b0d440"/><stop offset="1" stop-color="#80c878"/></linearGradient><clipPath id="cp5"><rect x="2438" y="1162" width="490" height="363"/></clipPath><clipPath id="cp6"><rect x="2950" y="1161" width="492" height="364"/></clipPath></defs><g clip-path="url(#cp1)"><g filter="url(#soft1)" transform="translate(1926 776)"><rect x="0" y="0" width="490" height="362" fill="#1c0c12" /><rect x="0" y="0" width="200" height="180" fill="url(#g1wall)" /><polygon points="25,2 195,2 195,32 170,36 150,30 120,44 100,40 80,46 60,38 40,30 25,22" fill="#faf6fa" /><rect x="10" y="6" width="40" height="46" fill="#4a2028" /><rect x="15" y="12" width="30" height="34" fill="#a49488" /><rect x="17" y="95" width="44" height="85" fill="#1a0a14" /><rect x="134" y="36" width="7" height="60" fill="#3a1a20" /><rect x="200" y="2" width="51" height="184" fill="url(#g1win)" /><rect x="251" y="2" width="33" height="198" fill="#5e4632" /><rect x="261" y="2" width="6" height="198" fill="#4a3a22" /><rect x="284" y="2" width="108" height="114" fill="#b8a8a8" /><rect x="296" y="15" width="87" height="91" fill="#7a3828" /><rect x="302" y="22" width="75" height="78" fill="#b06830" /><rect x="320" y="40" width="40" height="40" fill="#c08040" /><rect x="276" y="114" width="116" height="122" fill="#d6cac6" /><polygon points="390,2 446,2 432,250 380,250" fill="#5a4028" /><polygon points="405,2 412,2 396,250 390,250" fill="#3a2a18" /><polygon points="447,2 487,2 487,200 455,232 418,250 426,110" fill="url(#g1win)" /><ellipse cx="90" cy="156" rx="31" ry="36" fill="#4a1c20"/><ellipse cx="90" cy="156" rx="27" ry="32" fill="#8a7090"/><ellipse cx="175" cy="147" rx="28" ry="33" fill="#4a1c20"/><ellipse cx="175" cy="147" rx="24" ry="29" fill="#8a7090"/><ellipse cx="303" cy="151" rx="28" ry="33" fill="#4a1c20"/><ellipse cx="303" cy="151" rx="24" ry="29" fill="#8a7090"/><ellipse cx="8" cy="172" rx="24" ry="42" fill="#4a1c20"/><ellipse cx="8" cy="172" rx="20" ry="38" fill="#8a7090"/><polygon points="0,182 60,174 150,176 250,182 300,190 150,245 70,270 0,250" fill="#341616" /><polygon points="66,185 150,180 210,186 147,238 70,262" fill="#482824" /><line x1="70" y1="268" x2="148" y2="237" stroke="#c8642c" stroke-width="6"/><polygon points="300,240 452,250 452,362 215,362 245,300" fill="url(#g1rug)" /><polygon points="96,300 240,290 230,362 96,362" fill="#3e2e44" /><ellipse cx="330" cy="270" rx="10" ry="5" fill="#6a66a0"/><ellipse cx="380" cy="285" rx="10" ry="5" fill="#6a66a0"/><ellipse cx="420" cy="300" rx="10" ry="5" fill="#6a66a0"/><ellipse cx="350" cy="320" rx="10" ry="5" fill="#6a66a0"/><ellipse cx="400" cy="340" rx="10" ry="5" fill="#6a66a0"/><ellipse cx="300" cy="330" rx="10" ry="5" fill="#6a66a0"/><ellipse cx="260" cy="345" rx="10" ry="5" fill="#6a66a0"/><ellipse cx="430" cy="350" rx="10" ry="5" fill="#6a66a0"/><ellipse cx="360" cy="300" rx="10" ry="5" fill="#6a66a0"/><ellipse cx="258" cy="252" rx="30" ry="18" fill="#8a8aa8"/><rect x="0" y="237" width="68" height="125" fill="#1c0a10" /><ellipse cx="208" cy="260" rx="46" ry="80" fill="#1c0c0a"/><ellipse cx="208" cy="262" rx="34" ry="64" fill="#2a1812"/><polygon points="280,250 300,225 330,190 350,181 325,260 300,330 285,330" fill="#1a0c16" /><polygon points="330,250 360,195 378,180 360,260 352,305 340,305" fill="#1a0c18" /><rect x="358" y="181" width="34" height="49" fill="#c8b8a0" /><rect x="392" y="181" width="24" height="64" fill="#3e2c1c" /><polygon points="414,181 466,181 466,220 440,247 414,247" fill="#6c6cd8" /><polygon points="451,215 488,205 488,362 440,362" fill="#2a1018" /><rect x="0" y="350" width="490" height="12" fill="#1c0c12" /></g></g><g clip-path="url(#cp2)"><g filter="url(#soft)" transform="translate(2420 760) scale(0.31358)"><rect x="40" y="40" width="1600" height="1190" fill="#000" /><rect x="160" y="150" width="1390" height="1045" fill="url(#g2top_u)" /><rect x="500" y="150" width="1050" height="16" fill="#000" /><rect x="1050" y="700" width="430" height="495" fill="url(#g2r)" /><rect x="160" y="370" width="125" height="350" fill="#000" /><polygon points="285,540 1000,520 1010,600 860,650 560,690 285,700" fill="#000" /><polygon points="1020,180 1140,180 1130,380 1020,370" fill="#000" /><polygon points="720,200 820,190 830,460 730,470" fill="#1a0a08" /><polygon points="1200,170 1280,170 1270,360 1200,380" fill="#000" /><rect x="1500" y="380" width="50" height="815" fill="#000" /><rect x="1545" y="150" width="15" height="1045" fill="#000" /><rect x="120" y="640" width="40" height="555" fill="#000" /><ellipse cx="350" cy="535" rx="70" ry="65" fill="#50c0e0"/><ellipse cx="620" cy="500" rx="60" ry="50" fill="#a0d050"/><ellipse cx="1035" cy="510" rx="70" ry="55" fill="#b8d840"/><polygon points="440,510 530,500 520,620 460,620" fill="#2870c0" /><polygon points="120,700 560,680 560,1195 120,1195" fill="#1e48a8" /><rect x="120" y="820" width="180" height="375" fill="#1a3a98" /><polygon points="520,700 700,630 850,640 850,1195 520,1195" fill="#2048a8" /><polygon points="310,960 490,900 490,960 310,1030" fill="#40b8e0" /><polygon points="850,640 1000,600 1000,800 850,800" fill="#000" /><ellipse cx="900" cy="755" rx="40" ry="35" fill="#f0c020"/><polygon points="820,800 990,790 1000,1195 780,1195" fill="#2878c8" /><rect x="790" y="950" width="210" height="245" fill="#30a8e0" /><polygon points="1000,600 1150,560 1120,900 1060,1150 980,1150" fill="#2a60c0" /><polygon points="1150,560 1280,510 1200,800 1110,900" fill="#40b0e0" /><rect x="1470" y="820" width="70" height="375" fill="#2850b0" /><rect x="990" y="1140" width="70" height="60" fill="#30a8e0" /></g></g><g clip-path="url(#cp3)"><g filter="url(#soft)" transform="translate(2930 760) scale(0.31348)"><rect x="60" y="40" width="1590" height="1180" fill="url(#g3top)" /><ellipse cx="430" cy="300" rx="70" ry="120" fill="#b01818"/><ellipse cx="180" cy="330" rx="40" ry="40" fill="#c01818"/><rect x="1150" y="620" width="370" height="585" fill="url(#g3r)" /><polygon points="72,620 260,600 300,460 440,470 540,560 560,640 800,620 980,640 1150,560 1150,1205 72,1205" fill="#2a60b8" /><polygon points="260,600 300,460 440,470 520,540 420,680 300,680" fill="#50c0e0" /><polygon points="560,560 600,450 700,470 720,620 600,640" fill="#90d060" /><polygon points="960,560 1000,480 1100,480 1110,560 1000,620" fill="#a8d448" /><rect x="72" y="820" width="228" height="385" fill="#1a2a88" /><polygon points="520,720 700,640 870,630 870,1205 520,1205" fill="#2048a8" /><polygon points="310,990 520,900 520,960 320,1040" fill="#50c0e0" /><rect x="820" y="790" width="160" height="415" fill="#2a78c8" /><rect x="800" y="950" width="190" height="255" fill="#40b8e8" /><polygon points="980,640 1150,560 1130,900 1070,1100 990,1100" fill="#2a60c0" /><polygon points="1150,560 1270,520 1200,800 1110,950" fill="#48b8e0" /><rect x="1520" y="620" width="120" height="160" fill="#48c0e8" /><polygon points="1530,790 1620,800 1640,1205 1460,1205" fill="#2a58b0" /><polygon points="72,450 150,600 72,640" fill="#a0d048" /><rect x="870" y="730" width="80" height="60" fill="#f0c020" /></g></g><g clip-path="url(#cp4)"><g filter="url(#soft1)" transform="translate(1925 1161)"><rect x="0" y="0" width="492" height="364" fill="#0e0a0e" /><rect x="0" y="0" width="248" height="300" fill="url(#g4wall)" /><rect x="248" y="0" width="162" height="364" fill="url(#g4cur)" /><rect x="252.0" y="0" width="3.0" height="200" fill="#5e9a84" /><rect x="259.0" y="0" width="2.0" height="200" fill="#c8a890" /><rect x="265.5" y="0" width="3.0" height="200" fill="#5e9a84" /><rect x="272.5" y="0" width="2.0" height="200" fill="#c8a890" /><rect x="279.0" y="0" width="3.0" height="200" fill="#5e9a84" /><rect x="286.0" y="0" width="2.0" height="200" fill="#c8a890" /><rect x="292.5" y="0" width="3.0" height="200" fill="#5e9a84" /><rect x="299.5" y="0" width="2.0" height="200" fill="#c8a890" /><rect x="306.0" y="0" width="3.0" height="200" fill="#5e9a84" /><rect x="313.0" y="0" width="2.0" height="200" fill="#c8a890" /><rect x="319.5" y="0" width="3.0" height="200" fill="#5e9a84" /><rect x="326.5" y="0" width="2.0" height="200" fill="#c8a890" /><rect x="333.0" y="0" width="3.0" height="200" fill="#5e9a84" /><rect x="340.0" y="0" width="2.0" height="200" fill="#c8a890" /><rect x="346.5" y="0" width="3.0" height="200" fill="#5e9a84" /><rect x="353.5" y="0" width="2.0" height="200" fill="#c8a890" /><rect x="360.0" y="0" width="3.0" height="200" fill="#5e9a84" /><rect x="367.0" y="0" width="2.0" height="200" fill="#c8a890" /><rect x="373.5" y="0" width="3.0" height="200" fill="#5e9a84" /><rect x="380.5" y="0" width="2.0" height="200" fill="#c8a890" /><rect x="387.0" y="0" width="3.0" height="200" fill="#5e9a84" /><rect x="394.0" y="0" width="2.0" height="200" fill="#c8a890" /><rect x="400.5" y="0" width="3.0" height="200" fill="#5e9a84" /><rect x="407.5" y="0" width="2.0" height="200" fill="#c8a890" /><rect x="410" y="0" width="75" height="95" fill="#f2f2f4" /><rect x="485" y="0" width="7" height="364" fill="#7a7c84" /><rect x="428" y="85" width="64" height="39" fill="#8a8c98" /><rect x="403" y="124" width="89" height="48" fill="#2a2a30" /><rect x="418" y="132" width="22" height="18" fill="#b0b0b8" /><rect x="390" y="172" width="102" height="51" fill="#201818" /><rect x="351" y="210" width="26" height="154" fill="#7a5a4a" /><rect x="377" y="220" width="115" height="55" fill="#9a2c3c" /><rect x="440" y="222" width="8" height="53" fill="#d8c8c0" /><rect x="387" y="262" width="105" height="102" fill="#1c2a38" /><ellipse cx="445" cy="320" rx="48" ry="45" fill="#14202c"/><ellipse cx="398" cy="300" rx="14" ry="20" fill="#2a4058"/><polygon points="0,178 90,172 97,180 92,188 20,196 0,198" fill="#b0b4b0" /><rect x="0" y="196" width="17" height="84" fill="#9ca09c" /><ellipse cx="28" cy="290" rx="32" ry="12" fill="#c0c4c0"/><rect x="70" y="288" width="70" height="42" fill="#1e3a90" /><ellipse cx="105" cy="246" rx="30" ry="42" fill="#d03020"/><ellipse cx="104" cy="264" rx="17" ry="18" fill="#c8b8a0"/><ellipse cx="92" cy="226" rx="7" ry="6" fill="#c8b8a0"/><rect x="133" y="210" width="77" height="90" fill="#2a1a12" /><rect x="136" y="182" width="32" height="28" fill="#1a0a0a" /><rect x="168" y="182" width="32" height="28" fill="#b02040" /><polygon points="0,304 245,275 250,285 0,320" fill="#2a2224" /><polygon points="0,320 250,285 250,364 0,364" fill="#0e0a0e" /><rect x="245" y="210" width="85" height="154" fill="#0e0a0c" /><ellipse cx="278" cy="268" rx="22" ry="30" fill="#2a1810"/><rect x="290" y="294" width="58" height="52" fill="#1a5090" /><rect x="295" y="258" width="50" height="36" fill="#3a2a20" /></g></g><g clip-path="url(#cp5)"><g filter="url(#soft)" transform="translate(2420 1140) scale(0.32165)"><rect x="40" y="50" width="1580" height="1160" fill="url(#g5)" /><rect x="1380" y="50" width="53" height="310" fill="#f09020" /><rect x="1340" y="50" width="40" height="410" fill="#000" /><rect x="1433" y="50" width="125" height="310" fill="#000" /><polygon points="1390,360 1580,350 1580,470 1390,470" fill="#70c0b8" /><polygon points="1310,470 1580,460 1580,610 1290,610" fill="#80c8b8" /><polygon points="1270,600 1580,600 1580,760 1270,760" fill="#78c4c0" /><polygon points="1150,760 1580,750 1580,1210 1150,1210" fill="#70c0c0" /><ellipse cx="1420" cy="1060" rx="180" ry="170" fill="#3aa8e0"/><ellipse cx="1420" cy="1080" rx="110" ry="100" fill="#2a88d0"/><rect x="1350" y="500" width="70" height="40" fill="#d0a040" /><polygon points="780,990 900,790 1010,870 1150,870 1150,1210 800,1210" fill="url(#gwedge)" /><ellipse cx="205" cy="655" rx="145" ry="30" fill="#2050b0"/><polygon points="90,690 300,690 300,950 90,950" fill="#58b8d0" /><rect x="40" y="950" width="210" height="260" fill="#2060b8" /><polygon points="290,720 470,710 470,1210 290,1210" fill="#2048a8" /><rect x="470" y="730" width="230" height="270" fill="#3078c0" /><rect x="480" y="640" width="210" height="90" fill="#40b8e8" /><polygon points="240,990 800,975 800,990 240,1210" fill="#2050b0" /><polygon points="700,920 800,930 800,990 700,990" fill="#000" /><polygon points="60,1100 240,1120 240,1210 60,1210" fill="#102040" /></g></g><g clip-path="url(#cp6)"><g filter="url(#soft)" transform="translate(2932 1140) scale(0.32165)"><rect x="40" y="50" width="1580" height="1160" fill="url(#g5)" /><rect x="1395" y="50" width="45" height="290" fill="#f09020" /><polygon points="1390,360 1580,350 1580,470 1390,470" fill="#70c0b8" /><polygon points="1310,470 1580,460 1580,610 1290,610" fill="#80c8b8" /><polygon points="1270,600 1580,600 1580,760 1270,760" fill="#78c4c0" /><polygon points="1150,760 1580,750 1580,1210 1150,1210" fill="#70c0c0" /><ellipse cx="1420" cy="1060" rx="180" ry="170" fill="#3aa8e0"/><ellipse cx="1420" cy="1080" rx="110" ry="100" fill="#2a88d0"/><rect x="1350" y="500" width="70" height="40" fill="#d0a040" /><polygon points="780,990 900,790 1010,870 1150,870 1150,1210 800,1210" fill="url(#gwedge)" /><ellipse cx="205" cy="655" rx="145" ry="30" fill="#2050b0"/><polygon points="90,690 300,690 300,950 90,950" fill="#58b8d0" /><rect x="40" y="950" width="210" height="260" fill="#2060b8" /><polygon points="290,720 470,710 470,1210 290,1210" fill="#2048a8" /><rect x="470" y="730" width="230" height="270" fill="#3078c0" /><rect x="480" y="640" width="210" height="90" fill="#40b8e8" /><polygon points="240,990 800,975 800,990 240,1210" fill="#2050b0" /><polygon points="700,920 800,930 800,990 700,990" fill="#3078c0" /></g></g>
<rect x="1927.5" y="777.5" width="487" height="359" fill="none" stroke="#000" stroke-width="3"/>
</svg>
<div id="cvpr"><span>CVPR</span></div>
</div></body></html>
